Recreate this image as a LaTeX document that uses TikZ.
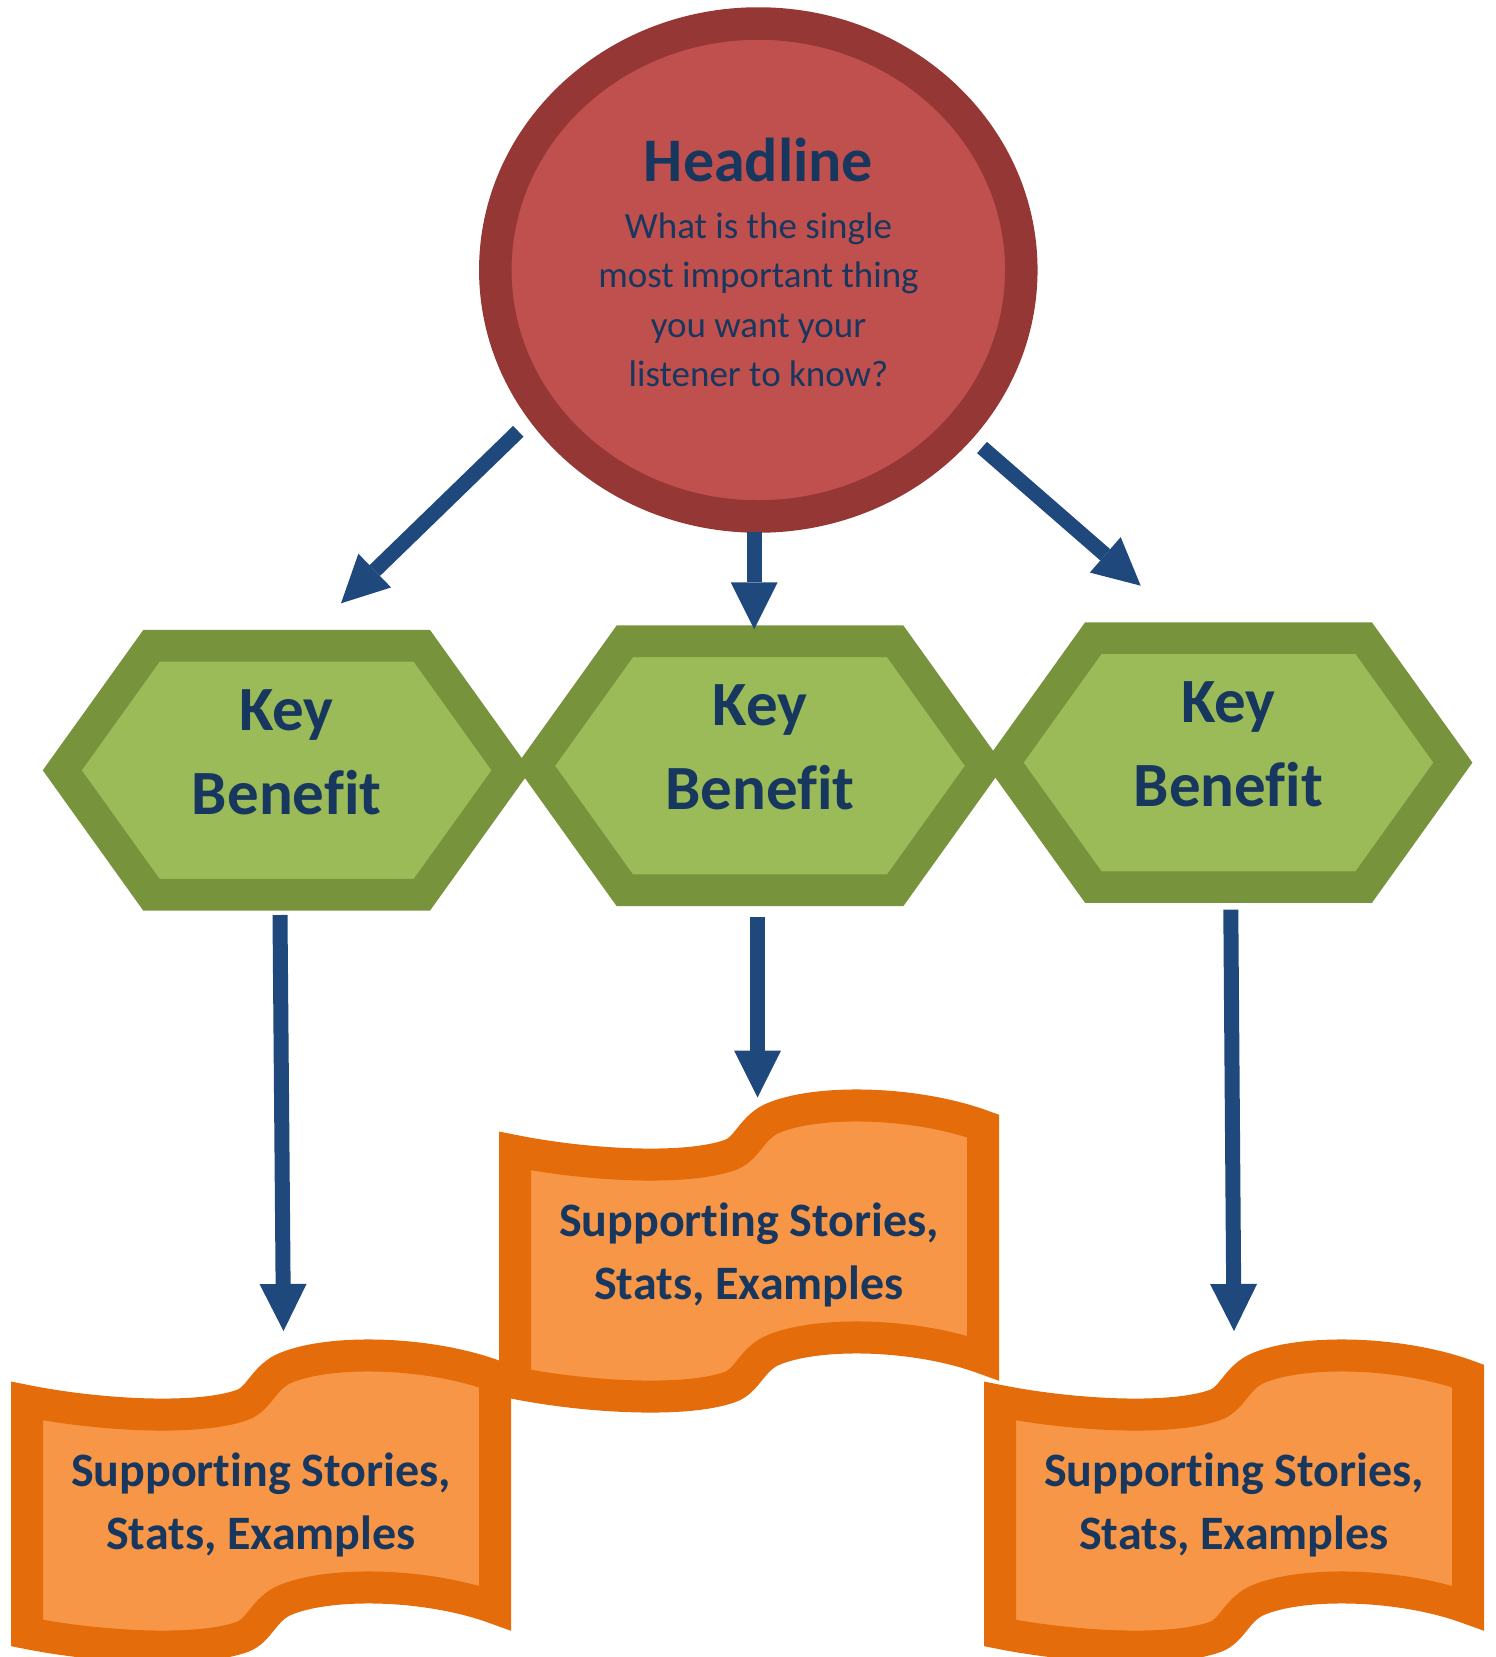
\documentclass[tikz,border=0pt]{standalone}
\usepackage{fontspec}
\setmainfont{Carlito}[Ligatures={NoCommon}]
\usetikzlibrary{shapes.geometric,arrows.meta}
\definecolor{headfill}{HTML}{C0504D}
\definecolor{headborder}{HTML}{953735}
\definecolor{hexfill}{HTML}{9BBB59}
\definecolor{hexborder}{HTML}{77933C}
\definecolor{banfill}{HTML}{F79646}
\definecolor{banborder}{HTML}{E46C0A}
\definecolor{arrowblue}{HTML}{1F497D}
\definecolor{textblue}{HTML}{17375E}
\tikzset{
  hexshape/.style={draw=hexborder, fill=hexfill, line width=31.7pt, line join=miter},
  banshape/.style={draw=banborder, fill=banfill, line width=32pt, line join=miter},
  headshape/.style={ellipse, draw=headborder, fill=headfill, line width=32.5pt,
    minimum width=526pt, minimum height=493pt, inner sep=0pt},
  txt/.style={text=textblue, inner sep=0pt, anchor=base},
  headtitle/.style={txt, font=\fontsize{62}{62}\selectfont\bfseries},
  headbody/.style={txt, font=\fontsize{37}{37}\selectfont},
  hextext/.style={txt, font=\fontsize{63}{63}\selectfont\bfseries},
  bantext/.style={txt, font=\fontsize{48}{48}\selectfont\bfseries},
  conn/.style={draw=arrowblue, line width=15pt,
    -{Triangle[length=47pt,width=47pt,line width=0pt]}}
}
\newcommand\hexat[2]{%
  \begin{scope}[shift={(#1,#2)}]
    \draw[hexshape] (-224.4,0) -- (-135.2,-124.5) -- (135.2,-124.5) -- (224.4,0)
      -- (135.2,124.5) -- (-135.2,124.5) -- cycle;
  \end{scope}}
\newcommand\bannerat[2]{%
  \begin{scope}[shift={(#1,#2)}]
    \draw[banshape] (0,0) .. controls (70,14) and (170,20) .. (215,4)
      .. controls (232,-2) and (236,-22) .. (256,-32)
      .. controls (300,-52) and (400,-50) .. (468,-25)
      -- (468,207) .. controls (400,182) and (300,180) .. (256,200)
      .. controls (236,210) and (232,230) .. (215,236)
      .. controls (170,252) and (70,246) .. (0,232) -- cycle;
  \end{scope}}
\begin{document}
\begin{tikzpicture}[x=1pt,y=-1pt]
\useasboundingbox (0,0) rectangle (1496,1657);
\clip (0,0) rectangle (1496,1657);

% headline
\node[headshape] (head) at (758.3,270) {};
\node[headtitle] (headt) at (758.5,181.4) {Headline};
\node[headbody] (hb1) at (758.5,238.6) {What is the single};
\node[headbody] (hb2) at (758.5,287.9) {most important thing};
\node[headbody] (hb3) at (758.5,337.1) {you want your};
\node[headbody] (hb4) at (758.5,386.4) {listener to know?};

% hexagons
\hexat{286.65}{770.3}
\hexat{760}{765.8}
\hexat{1228.5}{762.6}
\coordinate (h1) at (286.65,770.3);
\coordinate (h2) at (760,765.8);
\coordinate (h3) at (1228.5,762.6);
\node[hextext] (k1) at (286.65,730) {Key};
\node[hextext] (f1) at (286.65,814.3) {Benefit};
\node[hextext] (k2) at (760,725.5) {Key};
\node[hextext] (f2) at (760,809.8) {Benefit};
\node[hextext] (k3) at (1228.5,722.3) {Key};
\node[hextext] (f3) at (1228.5,806.6) {Benefit};

% banners
\bannerat{515}{1151}
\bannerat{27}{1401}
\bannerat{1000}{1401}
\node[bantext] (s2a) at (749,1236) {Supporting Stories,};
\node[bantext] (s2b) at (749,1299) {Stats, Examples};
\node[bantext] (s1a) at (261,1486) {Supporting Stories,};
\node[bantext] (s1b) at (261,1549) {Stats, Examples};
\node[bantext] (s3a) at (1234,1486) {Supporting Stories,};
\node[bantext] (s3b) at (1234,1549) {Stats, Examples};

% connectors
\coordinate (a1s) at (518.3,431.3);
\coordinate (a1e) at (341,603.3);
\coordinate (a2s) at (754.2,532);
\coordinate (a2e) at (754.2,629.3);
\coordinate (a3s) at (982,447.5);
\coordinate (a3e) at (1140.7,585.7);
\coordinate (a4s) at (280,915);
\coordinate (a4e) at (283.5,1331);
\coordinate (a5s) at (757.5,917);
\coordinate (a5e) at (757.5,1097.5);
\coordinate (a6s) at (1230.8,909.6);
\coordinate (a6e) at (1234,1331);
\draw[conn] (a1s) -- (a1e);
\draw[conn] (a2s) -- (a2e);
\draw[conn] (a3s) -- (a3e);
\draw[conn] (a4s) -- (a4e);
\draw[conn] (a5s) -- (a5e);
\draw[conn] (a6s) -- (a6e);
\end{tikzpicture}
\end{document}
